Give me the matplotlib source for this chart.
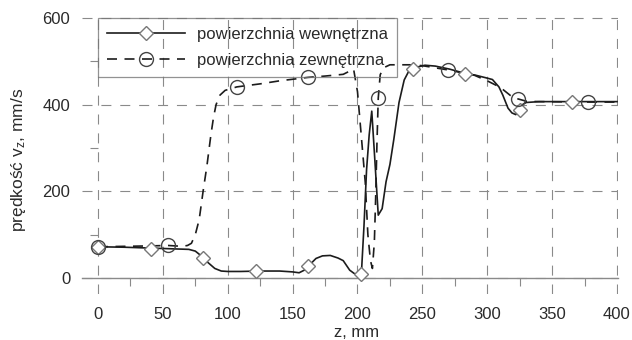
import matplotlib
matplotlib.use("Agg")
import matplotlib.pyplot as plt
from matplotlib.lines import Line2D
from matplotlib.ticker import MultipleLocator

# --- data -------------------------------------------------------------
# inner surface (powierzchnia wewnętrzna)
z_in = [0, 20, 40, 60, 70, 75, 80, 85, 90, 95, 100, 110, 125, 140, 150, 155,
        159, 163, 168, 173, 179, 185, 189, 194, 199, 203, 205, 207, 209, 211,
        213, 216, 219, 222, 225, 228, 232, 236, 240, 245, 252, 260, 271, 283,
        291, 299, 304, 309, 312, 316, 319, 322, 326, 330, 340, 360, 380, 400]
v_in = [72, 71, 69, 67, 66, 62, 50, 35, 22, 16, 15, 15, 16, 16, 14, 12,
        18, 30, 45, 51, 52, 46, 40, 18, 7, 10, 120, 250, 330, 385,
        290, 145, 160, 222, 262, 320, 405, 457, 480, 486, 491, 489, 482, 472,
        468, 462, 458, 441, 422, 392, 381, 377, 398, 405, 407, 407, 407, 407]

# outer surface (powierzchnia zewnętrzna)
z_out = [0, 20, 40, 54, 65, 69, 72, 75, 78, 81, 84, 87, 89, 91, 94, 98,
         107, 125, 140, 162, 175, 189, 193, 197, 200, 202, 204, 206, 208, 210,
         211.5, 213, 214, 215, 216, 217.5, 220, 225, 240, 250, 270, 290, 300,
         310, 315, 320, 324, 330, 340, 380, 400]
v_out = [72, 73, 74, 75, 73, 75, 80, 100, 135, 200, 260, 330, 370, 400, 422, 433,
         441, 448, 455, 463, 466, 470, 476, 482, 430, 360, 290, 220, 100, 40,
         22, 83, 185, 311, 415, 469, 485, 492, 492, 490, 480, 468, 455,
         440, 428, 416, 413, 408, 407, 406, 406]

# measurement points marked on each curve
z_in_pts = [0, 41, 81, 121.5, 162, 203, 243, 283, 325, 365]
v_in_pts = [72, 67, 46, 16, 28, 9, 483, 471, 388, 406]
z_out_pts = [0, 54, 107, 162, 216, 270, 324, 378]
v_out_pts = [72, 75, 441, 463, 415, 480, 413, 406]

labels = ["powierzchnia wewnętrzna", "powierzchnia zewnętrzna"]
x_ticks = [0, 50, 100, 150, 200, 250, 300, 350, 400]
y_ticks = [0, 200, 400, 600]

# --- style ------------------------------------------------------------
plt.rcParams["font.family"] = ["Liberation Sans", "DejaVu Sans"]
plt.rcParams["mathtext.fontset"] = "custom"
plt.rcParams["mathtext.rm"] = "Liberation Sans"
plt.rcParams["mathtext.it"] = "Liberation Sans:italic"

txt = "#2a2a2a"
grid_c = "#8a8a8a"
line_c = "#1c1c1c"
dash = (0, (6, 4.5))

fig = plt.figure(figsize=(6.32, 3.40), dpi=100)
ax = fig.add_axes([0.1294, 0.1353, 0.8489, 0.8143])

ax.plot(z_in, v_in, color=line_c, lw=1.2, solid_joinstyle="round")
ax.plot(z_out, v_out, color=line_c, lw=1.2, ls=dash)
ax.plot(z_in_pts, v_in_pts, ls="none", marker="D", ms=7, mfc="white",
        mec="#777777", mew=1.0, zorder=3)
ax.plot(z_out_pts, v_out_pts, ls="none", marker="o", ms=10, mfc="none",
        mec="#444444", mew=1.0, zorder=3)

ax.set_xlim(-12.5, 401)
ax.set_ylim(-37, 602)
ax.set_xticks(x_ticks)
ax.set_yticks(y_ticks)
ax.xaxis.set_minor_locator(MultipleLocator(25))
ax.yaxis.set_minor_locator(MultipleLocator(100))

for side in ("top", "right"):
    ax.spines[side].set_visible(False)
ax.spines["left"].set_position(("data", 0))
ax.spines["left"].set_color("none")
ax.spines["bottom"].set_position(("data", 0))
ax.spines["bottom"].set_color(grid_c)
ax.spines["bottom"].set_linewidth(1.0)

ax.tick_params(axis="x", which="major", length=0, pad=21, labelsize=12,
               labelcolor=txt)
ax.tick_params(axis="y", which="major", length=0, pad=20, labelsize=12,
               labelcolor=txt)
ax.tick_params(which="minor", direction="out", length=5.5, width=0.8,
               color=grid_c)

ax.grid(True, which="major", color=grid_c, lw=0.8, ls=(0, (9, 8)))
ax.set_axisbelow(True)

ax.set_xlabel("z, mm", fontsize=12, color=txt)
ax.xaxis.set_label_coords(0.513, -0.112)
ax.set_ylabel(r"prędkość v$_{\mathregular{z}}$, mm/s", fontsize=12.5, color=txt)
ax.yaxis.set_label_coords(-0.10, 0.485)

handles = [
    Line2D([], [], color=line_c, lw=1.2, marker="D", ms=7, mfc="white",
           mec="#777777", mew=1.0),
    Line2D([], [], color=line_c, lw=1.2, ls=dash, marker="o", ms=10,
           mfc="none", mec="#444444", mew=1.0),
]
leg = ax.legend(handles, labels, loc="upper left", bbox_to_anchor=(0, 600),
                bbox_transform=ax.transData, borderaxespad=0, fontsize=12,
                handlelength=4.7, handletextpad=0.7, labelspacing=0.62,
                borderpad=0.55, fancybox=False, numpoints=1, labelcolor=txt)
leg.get_frame().set_facecolor("none")
leg.get_frame().set_edgecolor("#777777")
leg.get_frame().set_linewidth(0.9)

fig.savefig("out.png", dpi=100)
